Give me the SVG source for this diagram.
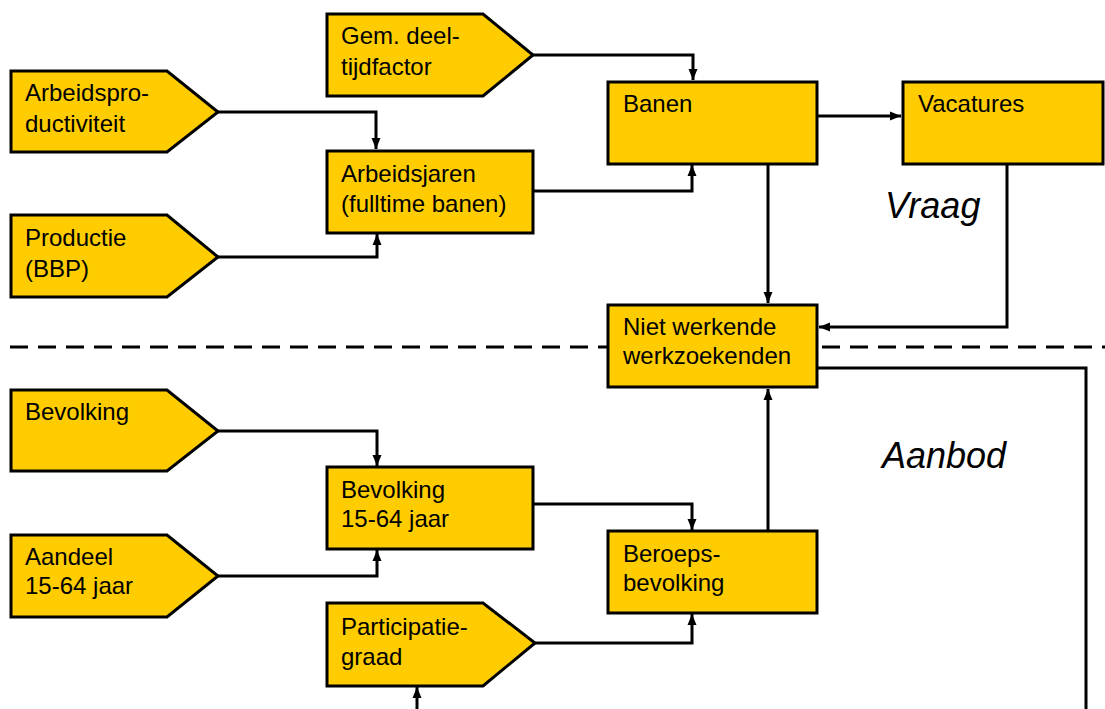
<svg xmlns="http://www.w3.org/2000/svg" width="1105" height="709" viewBox="0 0 1105 709">
<style>
.n{fill:#FFCC00;stroke:#000;stroke-width:3}
.t{font-family:"Liberation Sans",Arial,sans-serif;font-size:24px;fill:#000}
.big{font-family:"Liberation Sans",Arial,sans-serif;font-size:36px;font-style:italic;fill:#000}
.c{fill:none;stroke:#000;stroke-width:3}
.d{fill:none;stroke:#000;stroke-width:3;stroke-dasharray:18 10}
</style>
<defs>
<marker id="ah" markerUnits="userSpaceOnUse" markerWidth="12" markerHeight="12" viewBox="0 0 12 12" refX="11" refY="6" orient="auto">
<path d="M0,1.5 L11,6 L0,10.5 Z" fill="#000"/>
</marker>
</defs>
<line class="d" x1="10" y1="347" x2="1105" y2="347"/>
<g id="connectors">
<path class="c" d="M218,112 H376 V149" marker-end="url(#ah)"/>
<path class="c" d="M218,257 H377 V234" marker-end="url(#ah)"/>
<path class="c" d="M533,55 H693 V80" marker-end="url(#ah)"/>
<path class="c" d="M533,191 H692 V165" marker-end="url(#ah)"/>
<path class="c" d="M817,116 H901" marker-end="url(#ah)"/>
<path class="c" d="M768,164 V303" marker-end="url(#ah)"/>
<path class="c" d="M1007,164 V327 H819" marker-end="url(#ah)"/>
<path class="c" d="M817,368 H1086 V709"/>
<path class="c" d="M218,431 H377 V466" marker-end="url(#ah)"/>
<path class="c" d="M218,576 H377 V550" marker-end="url(#ah)"/>
<path class="c" d="M533,504 H692 V530" marker-end="url(#ah)"/>
<path class="c" d="M535,643 H692 V614" marker-end="url(#ah)"/>
<path class="c" d="M768,531 V389" marker-end="url(#ah)"/>
<path class="c" d="M417,709 V687" marker-end="url(#ah)"/>
</g>
<g id="arbeidsproductiviteit">
<polygon class="n" points="11,71 167,71 218,112 167,152 11,152"/>
<text class="t" x="25" y="101">Arbeidspro-</text>
<text class="t" x="25" y="132">ductiviteit</text>
</g>
<g id="productie">
<polygon class="n" points="11,215 167,215 218,257 167,297 11,297"/>
<text class="t" x="25" y="246">Productie</text>
<text class="t" x="25" y="277">(BBP)</text>
</g>
<g id="gem-deeltijdfactor">
<polygon class="n" points="327,14 483,14 533,55 483,96 327,96"/>
<text class="t" x="341" y="44">Gem. deel-</text>
<text class="t" x="341" y="75">tijdfactor</text>
</g>
<g id="arbeidsjaren">
<rect class="n" x="327" y="151" width="206" height="82"/>
<text class="t" x="341" y="182">Arbeidsjaren</text>
<text class="t" x="341" y="212">(fulltime banen)</text>
</g>
<g id="banen">
<rect class="n" x="608" y="82" width="209" height="82"/>
<text class="t" x="623" y="112">Banen</text>
</g>
<g id="vacatures">
<rect class="n" x="903" y="82" width="200" height="82"/>
<text class="t" x="918" y="112">Vacatures</text>
</g>
<g id="niet-werkende-werkzoekenden">
<rect class="n" x="608" y="305" width="209" height="82"/>
<text class="t" x="623" y="335">Niet werkende</text>
<text class="t" x="623" y="364">werkzoekenden</text>
</g>
<g id="bevolking">
<polygon class="n" points="11,390 167,390 218,431 167,471 11,471"/>
<text class="t" x="25" y="420">Bevolking</text>
</g>
<g id="bevolking-15-64">
<rect class="n" x="327" y="467" width="206" height="82"/>
<text class="t" x="341" y="498">Bevolking</text>
<text class="t" x="341" y="527">15-64 jaar</text>
</g>
<g id="aandeel">
<polygon class="n" points="11,535 167,535 218,576 167,617 11,617"/>
<text class="t" x="25" y="565">Aandeel</text>
<text class="t" x="25" y="594">15-64 jaar</text>
</g>
<g id="beroepsbevolking">
<rect class="n" x="608" y="531" width="209" height="82"/>
<text class="t" x="623" y="562">Beroeps-</text>
<text class="t" x="623" y="591">bevolking</text>
</g>
<g id="participatiegraad">
<polygon class="n" points="327,603 483,603 535,643 483,686 327,686"/>
<text class="t" x="341" y="635">Participatie-</text>
<text class="t" x="341" y="665">graad</text>
</g>
<text class="big" x="885" y="218">Vraag</text>
<text class="big" x="882" y="468">Aanbod</text>
</svg>
